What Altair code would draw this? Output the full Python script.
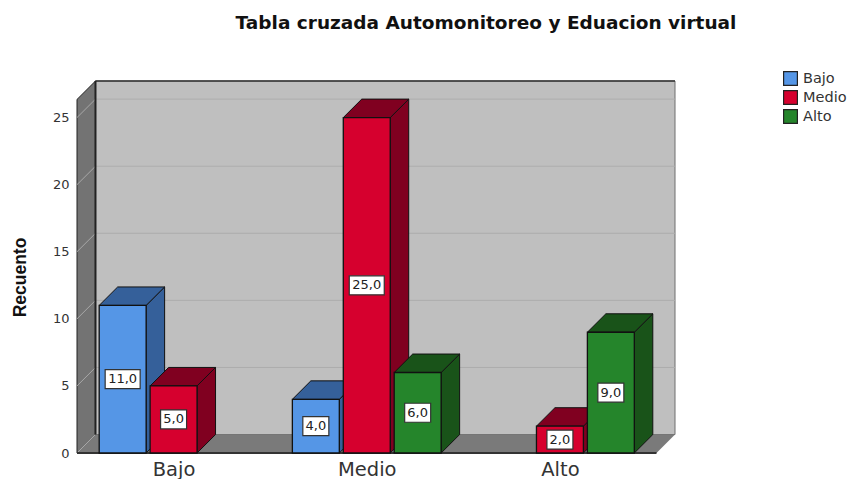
import altair as alt
import pandas as pd

# --- values ---
groups = ["Bajo", "Medio", "Alto"]
series = ["Bajo", "Medio", "Alto"]
bajo_values = [11, 4, None]
medio_values = [5, 25, 2]
alto_values = [None, 6, 9]
y_ticks = [0, 5, 10, 15, 20, 25]

front_colors = ["#5596e6", "#d6002e", "#25852b"]
side_colors = ["#35609a", "#800020", "#195319"]

# --- 3D layout, in axis units ---
X_MIN, X_MAX = -0.5, 2.5
Y_TOP = 26.35
DX, DY = 0.0957, 1.376
BAR_W, BAR_STEP = 0.243, 0.2636

x_scale = alt.Scale(domain=[X_MIN, X_MAX + DX], nice=False, zero=False)
y_scale = alt.Scale(domain=[0, Y_TOP + DY], nice=False, zero=False)

x_axis = alt.Axis(
    values=[0, 1, 2], labelExpr="['Bajo','Medio','Alto'][datum.value]", domain=False, ticks=False,
    grid=False, title=None, labelFont="DejaVu Sans", labelFontSize=19.5, labelColor="#333333",
    labelPadding=7, labelFlush=False,
)
y_axis = alt.Axis(
    values=y_ticks, domain=False, ticks=False, grid=False, title="Recuento",
    labelFont="DejaVu Sans", labelFontSize=13, labelColor="#333333", labelPadding=8,
    titleFont="Liberation Sans", titleFontSize=17.5, titleFontWeight="bold", titleColor="#111111",
    titleX=-48, titleY=196, titleAngle=-90,
)

bars = []
for s_i, vals in enumerate([bajo_values, medio_values, alto_values]):
    for g_i, v in enumerate(vals):
        if v is None:
            continue
        c = g_i + (s_i - 1) * BAR_STEP
        bars.append(dict(bar=f"{g_i}-{s_i}", series=series[s_i], v=v, c=c, mid=v / 2,
                         xl=c - BAR_W / 2, xr=c + BAR_W / 2,
                         side=side_colors[s_i], label=f"{v},0"))
bars_df = pd.DataFrame(bars)

side_rows, top_rows = [], []
for b in bars:
    side_rows += [dict(bar=b["bar"], side=b["side"], x=b["xr"], lo=0, hi=b["v"]),
                  dict(bar=b["bar"], side=b["side"], x=b["xr"] + DX, lo=DY, hi=b["v"] + DY)]
    top_rows += [dict(bar=b["bar"], side=b["side"], y=b["v"], x=b["xl"], x2=b["xr"]),
                 dict(bar=b["bar"], side=b["side"], y=b["v"] + DY, x=b["xl"] + DX, x2=b["xr"] + DX)]
side_df, top_df = pd.DataFrame(side_rows), pd.DataFrame(top_rows)

X = lambda f="x": alt.X(f"{f}:Q", scale=x_scale, axis=x_axis)
Y = lambda f="y": alt.Y(f"{f}:Q", scale=y_scale, axis=y_axis)

# walls and floor
back_wall = alt.Chart(pd.DataFrame([dict(x=X_MIN + DX, x2=X_MAX + DX, y=DY, y2=Y_TOP + DY)])).mark_rect(
    fill="#bfbfbf", stroke="#6e6e6e", strokeWidth=1
).encode(x=X(), x2="x2:Q", y=Y(), y2="y2:Q")

left_wall = alt.Chart(pd.DataFrame([dict(x=X_MIN, lo=0, hi=Y_TOP), dict(x=X_MIN + DX, lo=DY, hi=Y_TOP + DY)])).mark_area(
    fill="#737373", stroke="#222222", strokeWidth=1
).encode(x=X(), y=Y("lo"), y2="hi:Q")

floor = alt.Chart(pd.DataFrame([dict(y=0, x=X_MIN, x2=X_MAX), dict(y=DY, x=X_MIN + DX, x2=X_MAX + DX)])).mark_area(
    orient="horizontal", fill="#7a7a7a"
).encode(x=X(), x2="x2:Q", y=Y())

grid_back = alt.Chart(pd.DataFrame([dict(x=X_MIN + DX, x2=X_MAX + DX, y=t + DY) for t in y_ticks[1:]])).mark_rule(
    color="#adadad", strokeWidth=1
).encode(x=X(), x2="x2:Q", y=Y())

grid_rows = []
for t in y_ticks:
    grid_rows += [dict(t=t, x=X_MIN, y=t), dict(t=t, x=X_MIN + DX, y=t + DY)]
grid_left = alt.Chart(pd.DataFrame(grid_rows)).mark_line(color="#a8a8a8", strokeWidth=1).encode(
    x=X(), y=Y(), detail="t:N"
)

# edges of the box
top_edge = alt.Chart(pd.DataFrame([dict(x=X_MIN + DX, x2=X_MAX + DX, y=Y_TOP + DY)])).mark_rule(
    color="#333333", strokeWidth=1.5
).encode(x=X(), x2="x2:Q", y=Y())
corner = alt.Chart(pd.DataFrame([dict(x=X_MIN + DX, y=DY, y2=Y_TOP + DY)])).mark_rule(
    color="#222222", strokeWidth=2
).encode(x=X(), y=Y(), y2="y2:Q")
base_line = alt.Chart(pd.DataFrame([dict(x=X_MIN, x2=X_MAX, y=0)])).mark_rule(
    color="#333333", strokeWidth=2
).encode(x=X(), x2="x2:Q", y=Y())

# bars
sides = alt.Chart(side_df).mark_area(stroke="#111111", strokeWidth=1).encode(
    x=X(), y=Y("lo"), y2="hi:Q", color=alt.Color("side:N", scale=None), detail="bar:N"
)
tops = alt.Chart(top_df).mark_area(orient="horizontal", stroke="#111111", strokeWidth=1).encode(
    x=X(), x2="x2:Q", y=Y(), color=alt.Color("side:N", scale=None), detail="bar:N"
)
fronts = alt.Chart(bars_df).transform_calculate(zero="0").mark_rect(stroke="#111111", strokeWidth=1.3).encode(
    x=X("xl"), x2="xr:Q", y=Y("v"), y2="zero:Q",
    fill=alt.Fill("series:N", sort=series, scale=alt.Scale(domain=series, range=front_colors),
                  legend=alt.Legend(
                      title=None, orient="none", legendX=706, legendY=-12, symbolType="square",
                      symbolSize=190, symbolStrokeColor="#222222", symbolStrokeWidth=1.2,
                      labelFont="DejaVu Sans", labelFontSize=14.5, labelColor="#333333",
                      rowPadding=0, clipHeight=19, labelOffset=5, symbolOpacity=1,
                  )),
)

# value labels
big = bars_df[bars_df.v >= 10]
small = bars_df[bars_df.v < 10]
box_big = alt.Chart(big).mark_rect(width=35, height=19, fill="white", stroke="#333333", strokeWidth=1.2).encode(
    x=X("c"), y=Y("mid"))
box_small = alt.Chart(small).mark_rect(width=26, height=19, fill="white", stroke="#333333", strokeWidth=1.2).encode(
    x=X("c"), y=Y("mid"))
labels = alt.Chart(bars_df).mark_text(font="DejaVu Sans", fontSize=13, color="#222222").encode(
    x=X("c"), y=Y("mid"), text="label:N")

chart = alt.layer(
    back_wall, floor, left_wall, grid_back, grid_left, top_edge, corner, base_line,
    sides, tops, fronts, box_big, box_small, labels,
).properties(
    width=598, height=372,
    background="white",
    title=alt.TitleParams(
        "Tabla cruzada Automonitoreo y Eduacion virtual", font="DejaVu Sans", fontSize=18.5, fontWeight="bold",
        color="#111111", anchor="middle", dx=110, offset=37,
    ),
    autosize=alt.AutoSizeParams(type="none"),
    padding={"left": 69, "top": 73, "right": 172, "bottom": 26},
).configure_view(stroke="transparent")

chart.save("out.html", embed_options={"renderer": "svg", "actions": False})
